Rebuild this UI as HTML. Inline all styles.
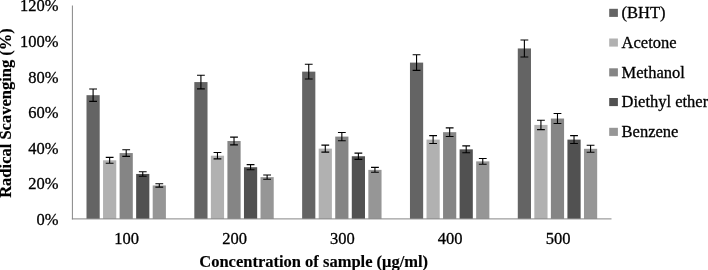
<!DOCTYPE html>
<html><head><meta charset="utf-8"><title>Radical scavenging chart</title>
<style>
html,body{margin:0;padding:0;background:#fff;}
body{width:708px;height:270px;overflow:hidden;}
svg{display:block;will-change:transform;}
text{font-family:"Liberation Serif","Times New Roman",serif;font-size:16.5px;fill:#000;stroke:#000;stroke-width:0.3px;}
.b{font-weight:bold;stroke-width:0.15px;}
</style></head><body>
<svg width="708" height="270" viewBox="0 0 708 270">
<rect width="708" height="270" fill="#fff"/>
<rect x="86.50" y="95.18" width="13.2" height="123.72" fill="#646464"/>
<rect x="103.05" y="160.31" width="13.2" height="58.59" fill="#b1b1b1"/>
<rect x="119.60" y="153.06" width="13.2" height="65.84" fill="#858585"/>
<rect x="136.15" y="173.94" width="13.2" height="44.96" fill="#515151"/>
<rect x="152.70" y="185.45" width="13.2" height="33.45" fill="#969696"/>
<rect x="194.32" y="82.08" width="13.2" height="136.82" fill="#646464"/>
<rect x="210.87" y="155.71" width="13.2" height="63.19" fill="#b1b1b1"/>
<rect x="227.42" y="141.02" width="13.2" height="77.88" fill="#858585"/>
<rect x="243.97" y="167.22" width="13.2" height="51.68" fill="#515151"/>
<rect x="260.52" y="177.13" width="13.2" height="41.77" fill="#969696"/>
<rect x="302.14" y="71.64" width="13.2" height="147.26" fill="#646464"/>
<rect x="318.69" y="148.63" width="13.2" height="70.27" fill="#b1b1b1"/>
<rect x="335.24" y="136.59" width="13.2" height="82.31" fill="#858585"/>
<rect x="351.79" y="156.24" width="13.2" height="62.66" fill="#515151"/>
<rect x="368.34" y="169.87" width="13.2" height="49.03" fill="#969696"/>
<rect x="409.96" y="62.61" width="13.2" height="156.29" fill="#646464"/>
<rect x="426.51" y="139.60" width="13.2" height="79.30" fill="#b1b1b1"/>
<rect x="443.06" y="132.17" width="13.2" height="86.73" fill="#858585"/>
<rect x="459.61" y="149.34" width="13.2" height="69.56" fill="#515151"/>
<rect x="476.16" y="161.38" width="13.2" height="57.52" fill="#969696"/>
<rect x="517.78" y="48.45" width="13.2" height="170.45" fill="#646464"/>
<rect x="534.33" y="124.91" width="13.2" height="93.99" fill="#b1b1b1"/>
<rect x="550.88" y="118.54" width="13.2" height="100.36" fill="#858585"/>
<rect x="567.43" y="139.60" width="13.2" height="79.30" fill="#515151"/>
<rect x="583.98" y="148.81" width="13.2" height="70.09" fill="#969696"/>
<line x1="72.4" y1="5.5" x2="72.4" y2="219.4" stroke="#868686" stroke-width="1"/>
<line x1="71.9" y1="218.9" x2="611.5" y2="218.9" stroke="#868686" stroke-width="1"/>
<path d="M93.10 88.99V101.36M89.20 88.99H97.00M89.20 101.36H97.00" stroke="#000" stroke-width="1.1" fill="none"/>
<path d="M109.65 157.38V163.24M105.75 157.38H113.55M105.75 163.24H113.55" stroke="#000" stroke-width="1.1" fill="none"/>
<path d="M126.20 149.76V156.35M122.30 149.76H130.10M122.30 156.35H130.10" stroke="#000" stroke-width="1.1" fill="none"/>
<path d="M142.75 171.69V176.19M138.85 171.69H146.65M138.85 176.19H146.65" stroke="#000" stroke-width="1.1" fill="none"/>
<path d="M159.30 183.77V187.12M155.40 183.77H163.20M155.40 187.12H163.20" stroke="#000" stroke-width="1.1" fill="none"/>
<path d="M200.92 75.24V88.92M197.02 75.24H204.82M197.02 88.92H204.82" stroke="#000" stroke-width="1.1" fill="none"/>
<path d="M217.47 152.55V158.87M213.57 152.55H221.37M213.57 158.87H221.37" stroke="#000" stroke-width="1.1" fill="none"/>
<path d="M234.02 137.13V144.91M230.12 137.13H237.92M230.12 144.91H237.92" stroke="#000" stroke-width="1.1" fill="none"/>
<path d="M250.57 164.63V169.80M246.67 164.63H254.47M246.67 169.80H254.47" stroke="#000" stroke-width="1.1" fill="none"/>
<path d="M267.12 175.04V179.22M263.22 175.04H271.02M263.22 179.22H271.02" stroke="#000" stroke-width="1.1" fill="none"/>
<path d="M308.74 64.27V79.00M304.84 64.27H312.64M304.84 79.00H312.64" stroke="#000" stroke-width="1.1" fill="none"/>
<path d="M325.29 145.12V152.14M321.39 145.12H329.19M321.39 152.14H329.19" stroke="#000" stroke-width="1.1" fill="none"/>
<path d="M341.84 132.48V140.71M337.94 132.48H345.74M337.94 140.71H345.74" stroke="#000" stroke-width="1.1" fill="none"/>
<path d="M358.39 153.11V159.37M354.49 153.11H362.29M354.49 159.37H362.29" stroke="#000" stroke-width="1.1" fill="none"/>
<path d="M374.94 167.42V172.32M371.04 167.42H378.84M371.04 172.32H378.84" stroke="#000" stroke-width="1.1" fill="none"/>
<path d="M416.56 54.79V70.42M412.66 54.79H420.46M412.66 70.42H420.46" stroke="#000" stroke-width="1.1" fill="none"/>
<path d="M433.11 135.64V143.57M429.21 135.64H437.01M429.21 143.57H437.01" stroke="#000" stroke-width="1.1" fill="none"/>
<path d="M449.66 127.83V136.51M445.76 127.83H453.56M445.76 136.51H453.56" stroke="#000" stroke-width="1.1" fill="none"/>
<path d="M466.21 145.86V152.82M462.31 145.86H470.11M462.31 152.82H470.11" stroke="#000" stroke-width="1.1" fill="none"/>
<path d="M482.76 158.50V164.25M478.86 158.50H486.66M478.86 164.25H486.66" stroke="#000" stroke-width="1.1" fill="none"/>
<path d="M524.38 39.93V56.97M520.48 39.93H528.28M520.48 56.97H528.28" stroke="#000" stroke-width="1.1" fill="none"/>
<path d="M540.93 120.21V129.61M537.03 120.21H544.83M537.03 129.61H544.83" stroke="#000" stroke-width="1.1" fill="none"/>
<path d="M557.48 113.52V123.56M553.58 113.52H561.38M553.58 123.56H561.38" stroke="#000" stroke-width="1.1" fill="none"/>
<path d="M574.03 135.64V143.57M570.13 135.64H577.93M570.13 143.57H577.93" stroke="#000" stroke-width="1.1" fill="none"/>
<path d="M590.58 145.30V152.31M586.68 145.30H594.48M586.68 152.31H594.48" stroke="#000" stroke-width="1.1" fill="none"/>
<text x="58.5" y="224.9" text-anchor="end">0%</text>
<text x="58.5" y="189.3" text-anchor="end">20%</text>
<text x="58.5" y="153.7" text-anchor="end">40%</text>
<text x="58.5" y="118.1" text-anchor="end">60%</text>
<text x="58.5" y="82.5" text-anchor="end">80%</text>
<text x="58.5" y="46.9" text-anchor="end">100%</text>
<text x="58.5" y="11.3" text-anchor="end">120%</text>
<text x="126.7" y="244.4" text-anchor="middle">100</text>
<text x="234.5" y="244.4" text-anchor="middle">200</text>
<text x="342.4" y="244.4" text-anchor="middle">300</text>
<text x="450.2" y="244.4" text-anchor="middle">400</text>
<text x="558.0" y="244.4" text-anchor="middle">500</text>
<text class="b" x="313.7" y="266.7" text-anchor="middle">Concentration of sample (μg/ml)</text>
<text class="b" transform="translate(11.2,113) rotate(-90)" text-anchor="middle">Radical Scavenging (%)</text>
<rect x="609.2" y="8.8" width="8.7" height="8.1" fill="#646464"/>
<text x="621.6" y="17.8">(BHT)</text>
<rect x="609.2" y="38.5" width="8.7" height="8.1" fill="#b1b1b1"/>
<text x="621.6" y="47.6">Acetone</text>
<rect x="609.2" y="68.3" width="8.7" height="8.1" fill="#858585"/>
<text x="621.6" y="77.5">Methanol</text>
<rect x="609.2" y="98.0" width="8.7" height="8.1" fill="#515151"/>
<text x="621.6" y="107.3">Diethyl ether</text>
<rect x="609.2" y="127.8" width="8.7" height="8.1" fill="#969696"/>
<text x="621.6" y="137.2">Benzene</text>
</svg>
</body></html>
